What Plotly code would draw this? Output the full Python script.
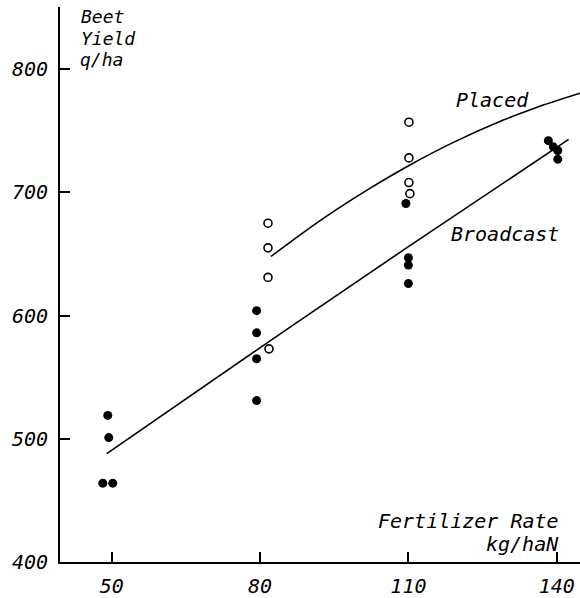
import plotly.graph_objects as go

# Fertilizer rate (kg/ha N) vs beet yield (q/ha)
broadcast_pts_x = [48.2, 50.2, 49.2, 49.4, 79.3, 79.3, 79.3, 79.3, 109.5, 110.0, 110.0, 110.0, 138.3, 139.3, 140.2, 140.2]
broadcast_pts_y = [464, 464, 519, 501, 604, 586, 565, 531, 691, 647, 641, 626, 742, 737, 734, 727]

placed_pts_x = [81.6, 81.6, 81.6, 81.8, 110.1, 110.1, 110.1, 110.3]
placed_pts_y = [675, 655, 631, 573, 757, 728, 708, 699]

broadcast_line_x = [49.0, 79.3, 110.0, 142.4]
broadcast_line_y = [488, 572, 656, 743]

placed_line_x = [82.2, 88.8, 95.5, 102.2, 110.4, 119.1, 129.2, 135.9, 144.7]
placed_line_y = [648, 667.6, 686.2, 703.3, 722.5, 740.6, 758.7, 769, 780.5]

x_ticks = [50, 80, 110, 140]
y_ticks = [400, 500, 600, 700, 800]

FONT = "DejaVu Sans Mono"

fig = go.Figure()
fig.add_trace(go.Scatter(x=broadcast_line_x, y=broadcast_line_y, mode="lines",
                         line=dict(color="black", width=1.6, shape="spline"), hoverinfo="skip"))
fig.add_trace(go.Scatter(x=placed_line_x, y=placed_line_y, mode="lines",
                         line=dict(color="black", width=1.6, shape="spline", smoothing=0.8), hoverinfo="skip"))
fig.add_trace(go.Scatter(x=broadcast_pts_x, y=broadcast_pts_y, mode="markers",
                         marker=dict(symbol="circle", size=9, color="black")))
fig.add_trace(go.Scatter(x=placed_pts_x, y=placed_pts_y, mode="markers",
                         marker=dict(symbol="circle-open", size=8, color="black", line=dict(width=1.6))))

ann_font = dict(family=FONT, size=20, color="black", style="italic")
small_font = dict(family=FONT, size=18, color="black", style="italic")
annotations = [
    dict(text="Beet", x=43.4, y=842.5, xanchor="left", yanchor="middle", font=small_font),
    dict(text="Yield", x=43.4, y=825.3, xanchor="left", yanchor="middle", font=small_font),
    dict(text="q/ha", x=43.2, y=808.2, xanchor="left", yanchor="middle", font=small_font),
    dict(text="Placed", x=127.1, y=775, xanchor="center", yanchor="middle", font=ann_font),
    dict(text="Broadcast", x=129.5, y=666.5, xanchor="center", yanchor="middle", font=ann_font),
    dict(text="Fertilizer Rate", x=140.9, y=433, xanchor="right", yanchor="middle", font=ann_font),
    dict(text="kg/haN", x=140.9, y=415, xanchor="right", yanchor="middle", font=ann_font),
]
for a in annotations:
    a.update(xref="x", yref="y", showarrow=False)

fig.update_layout(
    width=580, height=598,
    margin=dict(l=60, r=0, t=7, b=27),
    paper_bgcolor="white", plot_bgcolor="white",
    showlegend=False,
    font=dict(family=FONT, size=20, color="black", style="italic"),
    annotations=annotations,
)
fig.update_xaxes(range=[39.54, 144.7], tickvals=x_ticks, ticktext=[str(v) for v in x_ticks],
                 showgrid=False, zeroline=False, showline=True, linecolor="black", linewidth=2,
                 ticks="inside", ticklen=10, tickwidth=1.5, tickcolor="black",
                 ticklabelstandoff=5)
fig.update_yaxes(range=[400, 850.5], tickvals=y_ticks, ticktext=[str(v) for v in y_ticks],
                 showgrid=False, zeroline=False, showline=True, linecolor="black", linewidth=2,
                 ticks="inside", ticklen=10, tickwidth=1.5, tickcolor="black",
                 ticklabelstandoff=6)

fig.write_html("out.html")
